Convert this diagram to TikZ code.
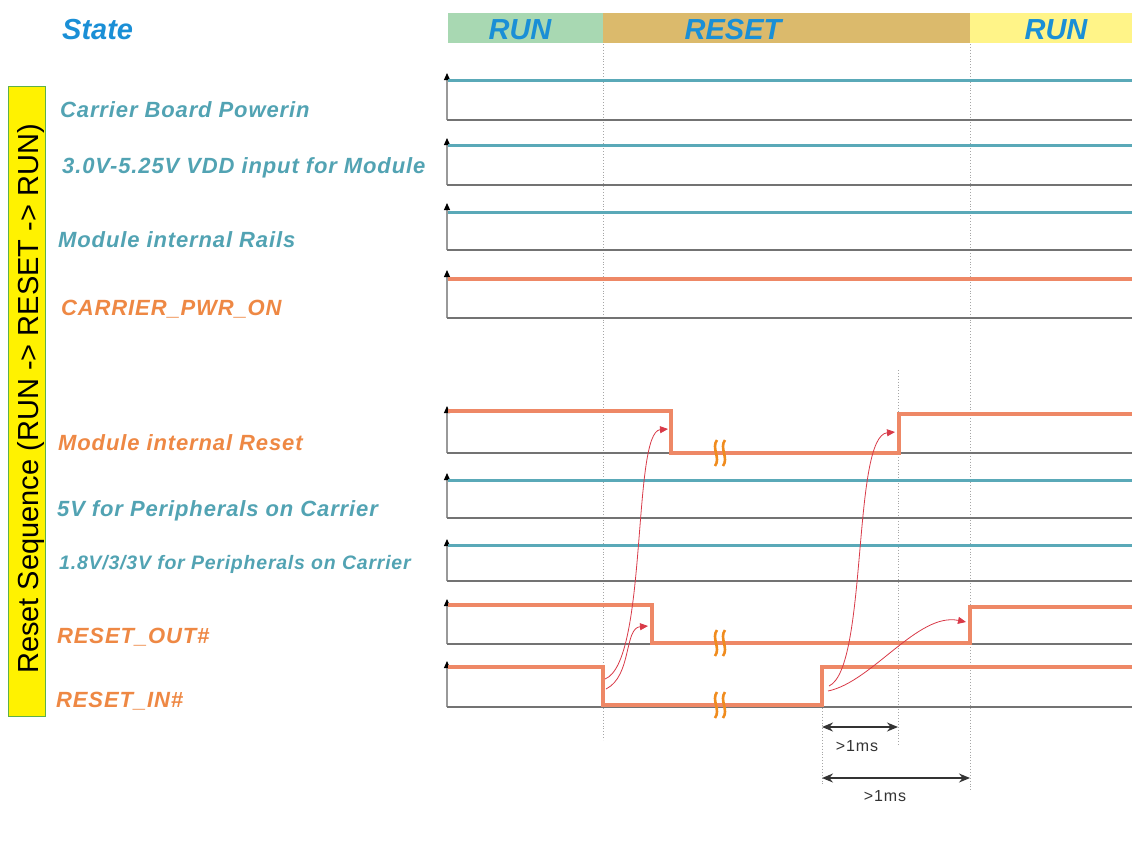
\documentclass[tikz,border=0pt]{standalone}
\usepackage{fontspec}
\setmainfont{Liberation Sans}
\newfontfamily\sigfont[LetterSpace=4]{Liberation Sans}
\newfontfamily\dimfont[LetterSpace=6]{Liberation Sans}
\usetikzlibrary{arrows.meta, positioning, calc}
\definecolor{sigteal}{HTML}{5AA9B8}
\definecolor{sigorange}{HTML}{EE8866}
\definecolor{txtteal}{HTML}{52A3B3}
\definecolor{txtorange}{HTML}{EE8844}
\definecolor{stateblue}{HTML}{1A8FD6}
\definecolor{rungreen}{HTML}{A8D8B2}
\definecolor{resetbrown}{HTML}{DBBA6C}
\definecolor{runyellow}{HTML}{FFF488}
\definecolor{brkorange}{HTML}{F08C1E}
\definecolor{causered}{HTML}{D83A48}
\definecolor{seqgreen}{HTML}{5FB04A}

% axis with tip at #1, baseline at #2
\newcommand{\sigaxis}[2]{%
  \draw[axisline, black!40, -{Triangle[width=6pt,length=7pt,color=black]}] (447,#2) -- (447,#1);
  \draw[axisline] (447,#2) -- (1132,#2);}
% break mark on a low level
\newcommand{\sigbreak}[2]{%
  \foreach \dx in {-4,4}
    \draw[brkline] (#1+\dx+1,#2-13) .. controls (#1+\dx-5,#2-5) and (#1+\dx+5,#2+5) .. (#1+\dx-1,#2+13);}

\begin{document}
\begin{tikzpicture}[
    x=1pt, y=-1pt,
    sigtxt/.style={anchor=base west, inner sep=0pt,
                   font=\sigfont\bfseries\itshape\fontsize{22}{24}\selectfont},
    tealtxt/.style={sigtxt, text=txtteal},
    orgtxt/.style={sigtxt, text=txtorange},
    statetxt/.style={anchor=base, inner sep=0pt, text=stateblue,
                     font=\bfseries\itshape\fontsize{29}{32}\selectfont},
    axisline/.style={line width=1.2pt, color=black!55},
    tealsig/.style={line width=3pt, color=sigteal},
    orgsig/.style={line width=3.4pt, color=sigorange},
    brkline/.style={line width=2.6pt, color=brkorange},
    guide/.style={dotted, line width=0.9pt, color=black!35},
    cause/.style={-{Triangle[length=8pt,width=7pt]}, line width=0.8pt, color=causered},
    dimarr/.style={{Stealth[length=11pt,width=9pt]}-{Stealth[length=11pt,width=9pt]},
                   line width=1.5pt, color=black!80},
    dimlbl/.style={anchor=base, inner sep=0pt, text=black!80,
                   font=\dimfont\fontsize{16}{18}\selectfont}
  ]
  \useasboundingbox (0,0) rectangle (1132,847);

  % state bar
  \fill[rungreen]   (448,13) rectangle (603,43);
  \fill[resetbrown] (603,13) rectangle (970,43);
  \fill[runyellow]  (970,13) rectangle (1132,43);
  \node[statetxt, anchor=base west] (state) at (62,39) {State};
  \node[statetxt] (run1)  at (520,39)  {RUN};
  \node[statetxt] (reset) at (733,39)  {RESET};
  \node[statetxt] (run2)  at (1056,39) {RUN};

  % sequence box
  \draw[seqgreen, fill=yellow, line width=1pt] (8,86) rectangle (45,716);
  \node[rotate=90, anchor=base, inner sep=0pt, font=\fontsize{29}{32}\selectfont]
    (seq) at (38,399) {Reset Sequence (RUN -> RESET -> RUN)};

  % guide lines
  \draw[guide] (603,44) -- (603,740);
  \draw[guide] (970,44) -- (970,792);
  \draw[guide] (898,370) -- (898,745);
  \draw[guide] (822,708) -- (822,785);

  % labels
  \node[tealtxt] (pwrin)  at (60,117) {Carrier Board Powerin};
  \node[tealtxt] (vdd)    at (62,173) {3.0V-5.25V VDD input for Module};
  \node[tealtxt] (rails)  at (58,247) {Module internal Rails};
  \node[orgtxt]  (pwron)  at (61,315) {CARRIER\_PWR\_ON};
  \node[orgtxt]  (intrst) at (58,450) {Module internal Reset};
  \node[tealtxt] (fivev)  at (57,516) {5V for Peripherals on Carrier};
  \node[tealtxt, font=\sigfont\bfseries\itshape\fontsize{19.5}{21}\selectfont]
                 (lowv)   at (59,569) {1.8V/3/3V for Peripherals on Carrier};
  \node[orgtxt]  (rstout) at (57,643) {RESET\_OUT\#};
  \node[orgtxt]  (rstin)  at (56,707) {RESET\_IN\#};

  % axes
  \sigaxis{73}{120}
  \sigaxis{138}{185}
  \sigaxis{203}{250}
  \sigaxis{270}{318}
  \sigaxis{406}{453}
  \sigaxis{473}{518}
  \sigaxis{539}{581}
  \sigaxis{599}{644}
  \sigaxis{661}{707}

  % signals
  \draw[tealsig] (448,80) -- (1132,80);
  \draw[tealsig] (448,145) -- (1132,145);
  \draw[tealsig] (448,212) -- (1132,212);
  \draw[orgsig]  (448,279) -- (1132,279);
  \draw[orgsig]  (448,411) -- (671,411) -- (671,453) -- (899,453) -- (899,414) -- (1132,414);
  \draw[tealsig] (448,480) -- (1132,480);
  \draw[tealsig] (448,545) -- (1132,545);
  \draw[orgsig]  (448,605) -- (652,605) -- (652,643) -- (970,643) -- (970,607) -- (1132,607);
  \draw[orgsig]  (448,667) -- (603,667) -- (603,705) -- (822,705) -- (822,667) -- (1132,667);

  \sigbreak{720}{453}
  \sigbreak{720}{643}
  \sigbreak{720}{705}

  % cause arrows
  \coordinate (inFallA) at (605,679);
  \coordinate (inFallB) at (606,689);
  \coordinate (inRiseA) at (829,686);
  \coordinate (inRiseB) at (828,691);
  \coordinate (rstFall) at (668,429);
  \coordinate (outFall) at (648,626);
  \coordinate (rstRise) at (895,432);
  \coordinate (outRise) at (966,622);
  \draw[cause] (inFallA) .. controls (648,662) and (632,432) .. (rstFall);
  \draw[cause] (inFallB) .. controls (632,676) and (624,628) .. (outFall);
  \draw[cause] (inRiseA) .. controls (868,668) and (852,436) .. (rstRise);
  \draw[cause] (inRiseB) .. controls (872,682) and (918,612) .. (outRise);

  % timing
  \coordinate (dimAs) at (822,727);
  \coordinate (dimAe) at (898,727);
  \coordinate (dimBs) at (822,778);
  \coordinate (dimBe) at (970,778);
  \draw[dimarr] (dimAs) -- (dimAe);
  \draw[dimarr] (dimBs) -- (dimBe);
  \node[dimlbl] (dimAl) at (857,751) {>1ms};
  \node[dimlbl] (dimBl) at (885,801) {>1ms};
\end{tikzpicture}
\end{document}
